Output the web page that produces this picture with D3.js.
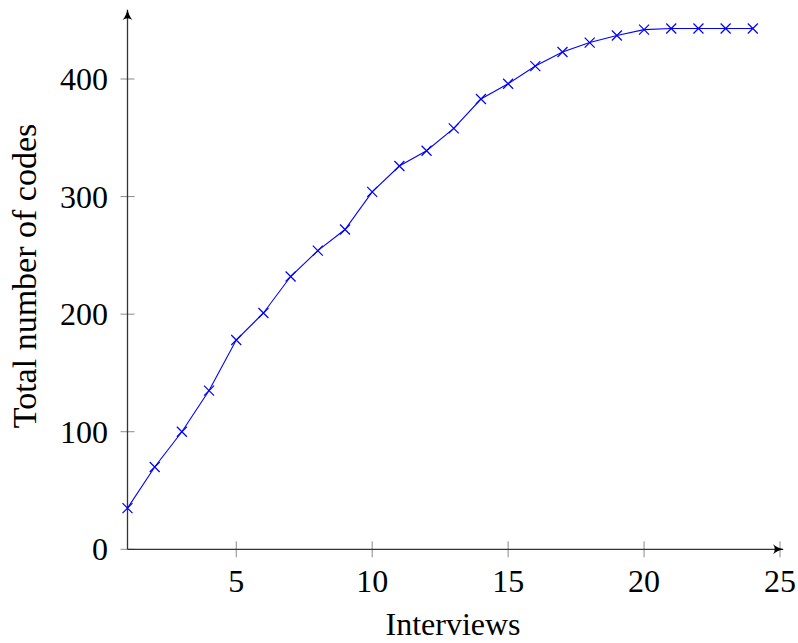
<!DOCTYPE html>
<html lang="en">
<head>
    <meta charset="UTF-8">
    <title>Total number of codes</title>
    <style>
        body { margin: 0; background: #fff; }
        svg text { font-family: "Liberation Serif", "Times New Roman", serif; fill: #000; }
    </style>
    <script src="https://d3js.org/d3.v7.min.js"></script>
</head>
<body>
    <div id="plot"></div>
    <script>
        // values
        const interviews = [1, 2, 3, 4, 5, 6, 7, 8, 9, 10, 11, 12, 13, 14, 15, 16, 17, 18, 19, 20, 21, 22, 23, 24];
        const totalCodes = [35, 70, 100, 135, 178, 201, 232, 254, 272, 304, 326, 339, 358, 383, 396, 411, 423, 431, 437, 442, 443, 443, 443, 443];
        const xTicks = [5, 10, 15, 20, 25];
        const yTicks = [0, 100, 200, 300, 400];

        const width = 798, height = 643;
        const svg = d3.select("#plot").append("svg")
            .attr("width", width)
            .attr("height", height);

        const x = d3.scaleLinear().domain([1, 25]).range([127.5, 780]);
        const y = d3.scaleLinear().domain([0, 457]).range([549.3, 12]);

        // arrow head for the axis lines
        svg.append("defs").append("marker")
            .attr("id", "arrow")
            .attr("viewBox", "0 0 10 10")
            .attr("refX", 9).attr("refY", 5)
            .attr("markerWidth", 11).attr("markerHeight", 11)
            .attr("markerUnits", "userSpaceOnUse")
            .attr("orient", "auto")
            .append("path")
            .attr("d", "M0,0.5 Q4,4 10,5 Q4,6 0,9.5 Q3,5 0,0.5 Z")
            .attr("fill", "#000");

        // ticks (crossing the axis, like pgfplots)
        svg.append("g").selectAll("line")
            .data(yTicks)
            .join("line")
            .attr("x1", x(1) - 7).attr("x2", x(1) + 7)
            .attr("y1", d => y(d)).attr("y2", d => y(d))
            .attr("stroke", "#8a8a8a").attr("stroke-width", 1);

        svg.append("g").selectAll("line")
            .data(xTicks)
            .join("line")
            .attr("x1", d => x(d)).attr("x2", d => x(d))
            .attr("y1", y(0) - 8).attr("y2", y(0) + 8)
            .attr("stroke", "#8a8a8a").attr("stroke-width", 1);

        // axis lines
        svg.append("line")
            .attr("x1", x(1)).attr("x2", x(25) + 3)
            .attr("y1", y(0)).attr("y2", y(0))
            .attr("stroke", "#333").attr("stroke-width", 1.3)
            .attr("marker-end", "url(#arrow)");

        svg.append("line")
            .attr("x1", x(1)).attr("x2", x(1))
            .attr("y1", y(0)).attr("y2", y(457) - 2)
            .attr("stroke", "#333").attr("stroke-width", 1.3)
            .attr("marker-end", "url(#arrow)");

        // tick labels
        svg.append("g").selectAll("text")
            .data(yTicks)
            .join("text")
            .attr("x", 108)
            .attr("y", d => y(d) + 11)
            .attr("text-anchor", "end")
            .style("font-size", "32px")
            .text(d => d);

        svg.append("g").selectAll("text")
            .data(xTicks)
            .join("text")
            .attr("x", d => x(d))
            .attr("y", 592)
            .attr("text-anchor", "middle")
            .style("font-size", "32px")
            .text(d => d);

        // axis titles
        svg.append("text")
            .attr("x", 453)
            .attr("y", 635)
            .attr("text-anchor", "middle")
            .style("font-size", "32px")
            .text("Interviews");

        svg.append("text")
            .attr("transform", "translate(36,276) rotate(-90)")
            .attr("text-anchor", "middle")
            .style("font-size", "34px")
            .text("Total number of codes");

        // data line
        const pts = interviews.map((d, i) => [d, totalCodes[i]]);
        svg.append("path")
            .datum(pts)
            .attr("fill", "none")
            .attr("stroke", "#0000ff")
            .attr("stroke-width", 1.1)
            .attr("d", d3.line().x(d => x(d[0])).y(d => y(d[1])));

        // cross markers
        const s = 5;
        svg.append("g").selectAll("path")
            .data(pts)
            .join("path")
            .attr("d", d => {
                const cx = x(d[0]), cy = y(d[1]);
                return `M${cx - s},${cy - s}L${cx + s},${cy + s}M${cx - s},${cy + s}L${cx + s},${cy - s}`;
            })
            .attr("stroke", "#0000ff")
            .attr("stroke-width", 1.2)
            .attr("fill", "none");
    </script>
</body>
</html>
